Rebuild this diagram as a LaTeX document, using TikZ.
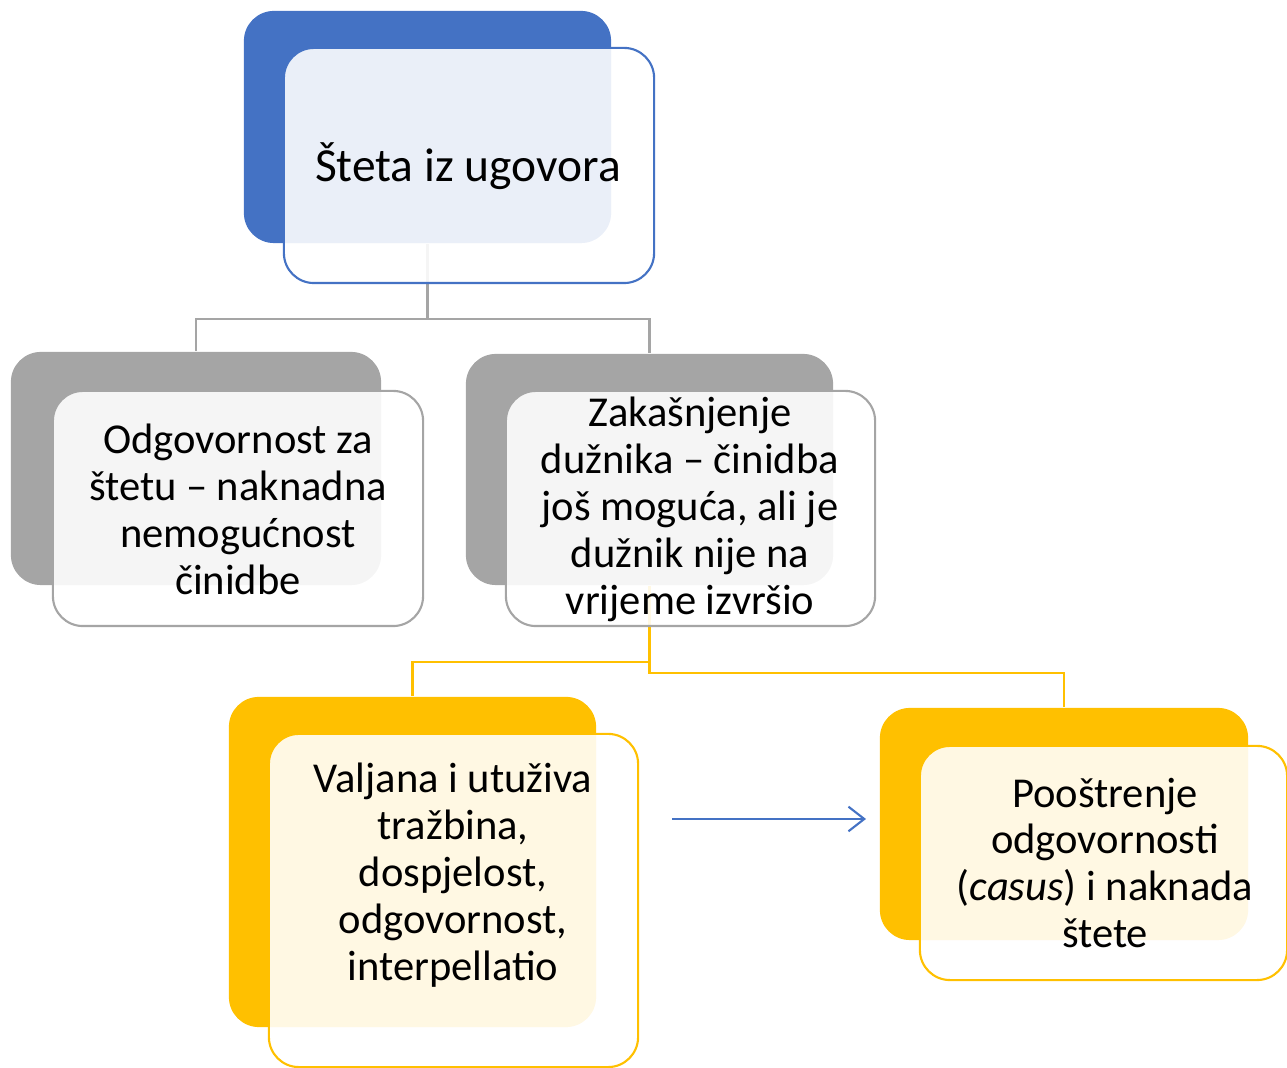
\documentclass[tikz,border=0pt]{standalone}
\usepackage{fontspec}
\setmainfont{Carlito}
\usepackage{tikz}
\usetikzlibrary{arrows.meta}
\definecolor{accblue}{HTML}{4472C4}
\definecolor{accgray}{HTML}{A5A5A5}
\definecolor{accgold}{HTML}{FFC000}
\tikzset{
    backbox/.style={rectangle, rounded corners=0.3cm, fill=#1, inner sep=0pt},
    frontbox/.style={rectangle, rounded corners=0.3cm, draw=#1, line width=0.6pt,
        fill=white, fill opacity=0.89, draw opacity=1, inner sep=0pt},
    link/.style={draw=#1, line width=0.6pt},
    boxtext/.style={align=center, inner sep=0pt, font=\fontsize{12.1}{13.35}\selectfont}
}

\begin{document}
\begin{tikzpicture}[x=0.01cm, y=-0.01cm]
        \useasboundingbox (0,0) rectangle (1287,1068);
        % back boxes
        \node[backbox=accblue, minimum width=3.67cm, minimum height=2.32cm] (steta) at (427.5,127) {};
        \node[backbox=accgray, minimum width=3.7cm, minimum height=2.33cm] (odg) at (196,468.5) {};
        \node[backbox=accgray, minimum width=3.67cm, minimum height=2.31cm] (zak) at (649.5,469.5) {};
        \node[backbox=accgold, minimum width=3.67cm, minimum height=3.3cm] (valj) at (412.5,862) {};
        \node[backbox=accgold, minimum width=3.68cm, minimum height=2.32cm] (poos) at (1064,824) {};
        % connectors
        \draw[link=accgray] (steta.south) -- ++(0,75) -| (odg.north);
        \draw[link=accgray] (steta.south) -- ++(0,75) -| (zak.north);
        \draw[link=accgold] (zak.south) -- ++(0,76) -| (valj.north);
        \draw[link=accgold] (zak.south) -- ++(0,87) -| (poos.north);
        % front boxes
        \node[frontbox=accblue, minimum width=3.7cm, minimum height=2.35cm] (stetaf) at (469,165.5) {};
        \node[frontbox=accgray, minimum width=3.7cm, minimum height=2.35cm] (odgf) at (238,508.5) {};
        \node[frontbox=accgray, minimum width=3.69cm, minimum height=2.35cm] (zakf) at (690.5,508.5) {};
        \node[frontbox=accgold, minimum width=3.69cm, minimum height=3.33cm] (valjf) at (453.5,900.5) {};
        \node[frontbox=accgold, minimum width=3.67cm, minimum height=2.34cm] (poosf) at (1103.5,863) {};
        % texts
        \node[boxtext, font=\fontsize{13.5}{16}\selectfont] (stetat) at (468,166) {Šteta iz ugovora};
        \node[boxtext] (odgt) at (238,509) {Odgovornost za\\ štetu – naknadna\\ nemogućnost\\ činidbe};
        \node[boxtext] (zakt) at (690,509) {Zakašnjenje\\ dužnika – činidba\\ još moguća, ali je\\ dužnik nije na\\ vrijeme izvršio};
        \node[boxtext] (valjt) at (453,875) {Valjana i utuživa\\ tražbina,\\ dospjelost,\\ odgovornost,\\ interpellatio};
        \node[boxtext] (poost) at (1105,863) {Pooštrenje\\ odgovornosti\\ (\textit{casus}) i naknada\\ štete};
        % arrow
        \coordinate (arrs) at (672,819);
        \coordinate (arre) at (866,819);
        \draw[link=accblue, -{Straight Barb[length=4.5pt, width=7pt]}] (arrs) -- (arre);
\end{tikzpicture}
\end{document}
